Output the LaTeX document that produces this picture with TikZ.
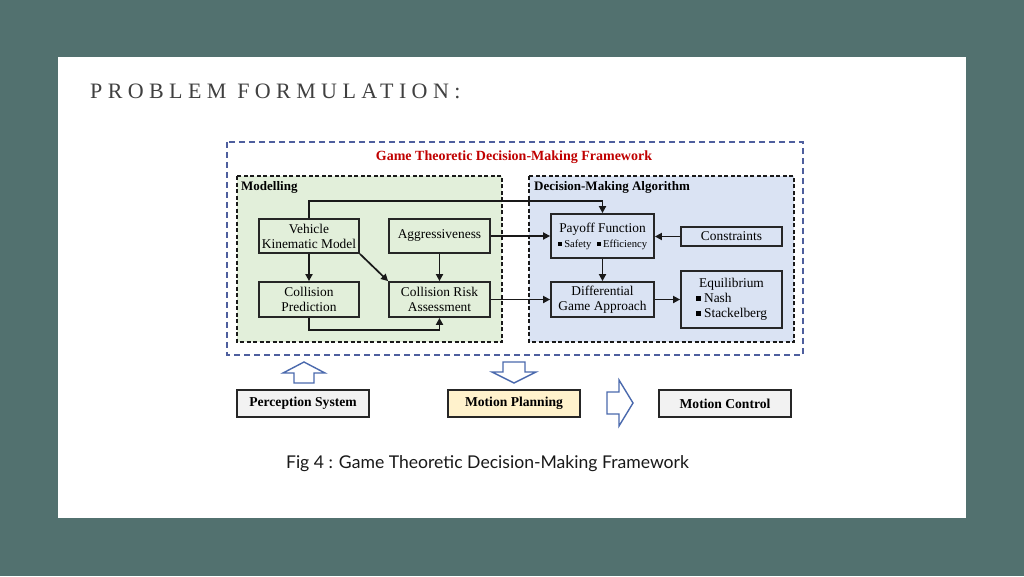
\documentclass[tikz,border=0pt]{standalone}
\usepackage{fontspec}
\setmainfont{Liberation Serif}
\newfontfamily\titlefont[LetterSpace=24.5]{Liberation Serif}
\newfontfamily\capfont{Lato}
\usetikzlibrary{arrows.meta}
\definecolor{bgteal}{HTML}{52716F}
\definecolor{outerblue}{HTML}{4E5E9E}
\definecolor{titlered}{HTML}{C00000}
\definecolor{greenfill}{HTML}{E2EFDA}
\definecolor{bluefill}{HTML}{DAE3F3}
\definecolor{grayfill}{HTML}{F2F2F2}
\definecolor{yellowfill}{HTML}{FFF2CC}
\definecolor{blockblue}{HTML}{4A69AD}
\newcommand\sqb{\rule[0.3ex]{0.36em}{0.36em}}
\tikzset{
  box/.style={draw=black!85, line width=1.8pt, align=center, inner sep=0pt,
    font=\fontsize{13.4}{15}\selectfont},
  gbox/.style={box, fill=greenfill},
  bbox/.style={box, fill=bluefill},
  sysbox/.style={draw=black!85, line width=1.8pt, inner sep=0pt, minimum width=132pt,
    minimum height=27pt, font=\fontsize{13.6}{15}\selectfont\bfseries},
  arr/.style={-{Triangle[length=7pt,width=7pt]}, line width=1.7pt, draw=black!90},
  panel/.style={draw=black!90, line width=1.6pt, dash pattern=on 4pt off 2.5pt},
  blockarrow/.style={draw=blockblue, line width=1.4pt, fill=white, line join=miter}
}
\begin{document}
\begin{tikzpicture}[x=1pt,y=-1pt]
\useasboundingbox (0,0) rectangle (1024,576);
\fill[bgteal] (0,0) rectangle (1024,576);
\fill[white] (58,57) rectangle (966,518);
\node[anchor=west, text=black!75, font=\titlefont\fontsize{22}{24}\selectfont, inner sep=0pt] (title) at (90,91) {PROBLEM FORMULATION:};

% outer framework
\draw[outerblue, line width=1.4pt, dash pattern=on 6pt off 4pt] (227,142) rectangle (803,355);
\node[text=titlered, font=\fontsize{14}{16}\selectfont\bfseries, inner sep=0pt] (fwtitle) at (514,157) {Game Theoretic Decision-Making Framework};

% panels
\draw[panel, fill=greenfill] (237,176) rectangle (502,342);
\draw[panel, fill=bluefill] (529,176) rectangle (794,342);
\node[anchor=north west, font=\fontsize{13}{15}\selectfont\bfseries, inner sep=0pt] (modl) at (241,181) {Modelling};
\node[anchor=north west, font=\fontsize{13}{15}\selectfont\bfseries, inner sep=0pt] (dmal) at (534,181) {Decision-Making Algorithm};

% modelling boxes
\node[gbox, minimum width=100pt, minimum height=34pt] (vkm) at (309,236) {Vehicle\\Kinematic Model};
\node[gbox, minimum width=101pt, minimum height=34pt] (agg) at (439.5,236) {Aggressiveness};
\node[gbox, minimum width=100pt, minimum height=35pt] (cp) at (309,299.5) {Collision\\Prediction};
\node[gbox, minimum width=101pt, minimum height=35pt] (cra) at (439.5,299.5) {Collision Risk\\Assessment};

% decision boxes
\node[bbox, minimum width=103pt, minimum height=44pt] (pay) at (602.5,236) {Payoff Function\\[0pt]{\fontsize{10.6}{12}\selectfont\sqb\ Safety \ \sqb\ Efficiency}};
\node[bbox, minimum width=101pt, minimum height=19pt] (con) at (731.5,236.5) {Constraints};
\node[bbox, minimum width=103pt, minimum height=35pt] (dga) at (602.5,299.5) {Differential\\Game Approach};
\node[bbox, minimum width=101pt, minimum height=57pt] (eq) at (731.5,299.5) {\begin{tabular}{@{}l@{}}\multicolumn{1}{@{}c@{}}{Equilibrium}\\[0.3pt] \sqb\ Nash\\[0.3pt] \sqb\ Stackelberg\end{tabular}};

% connectors
\draw[arr] (vkm.north) -- ++(0,-17) -| (pay.north);
\draw[arr] (agg.east) -- (pay.west);
\draw[arr] (con.west) -- (con.west -| pay.east);
\draw[arr] (vkm.south) -- (cp.north);
\draw[arr] (vkm.south east) -- (cra.north west);
\draw[arr] (agg.south) -- (cra.north);
\draw[arr] (cp.south) -- ++(0,12) -| (cra.south);
\draw[arr] (cra.east) -- (dga.west);
\draw[arr] (pay.south) -- (dga.north);
\draw[arr] (dga.east) -- (dga.east -| eq.west);

% block arrows
\draw[blockarrow] (294,383) -- (294,373) -- (283,373) -- (304,362) -- (325,373) -- (314,373) -- (314,383) -- cycle;
\draw[blockarrow] (503,362) -- (525,362) -- (525,372) -- (536,372) -- (514,383) -- (492,372) -- (503,372) -- cycle;
\draw[blockarrow] (607,392) -- (619,392) -- (619,380) -- (633,403) -- (619,426) -- (619,414) -- (607,414) -- cycle;

% system boxes
\node[sysbox, fill=grayfill] (perc) at (303,403.5) {Perception System};
\node[sysbox, fill=yellowfill] (mp) at (514,403.5) {Motion Planning};
\node[sysbox, fill=grayfill] (mc) at (725,403.5) {Motion Control};

\node[font=\capfont\fontsize{17.6}{19}\selectfont, text=black!90, inner sep=0pt] (caption) at (487.5,464) {Fig 4 : Game Theoretic Decision-Making Framework};
\end{tikzpicture}
\end{document}
